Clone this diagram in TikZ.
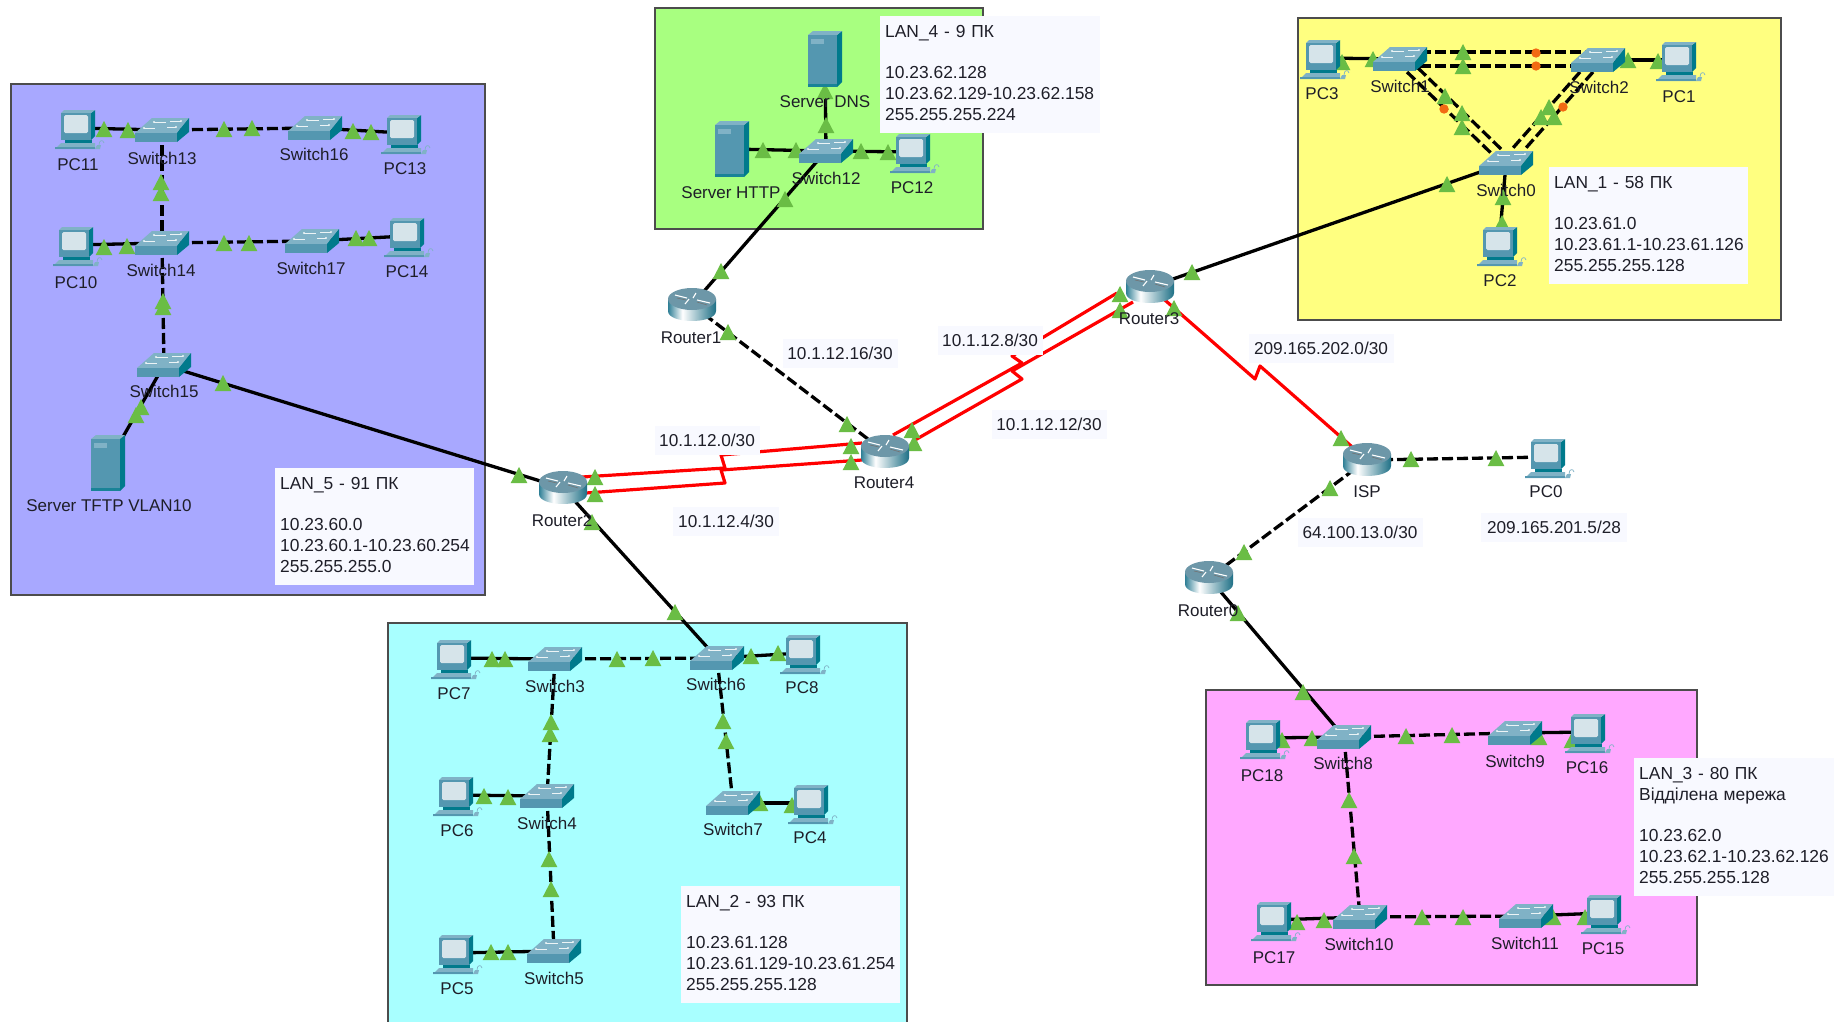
\documentclass[tikz,border=0pt]{standalone}
\usepackage{fontspec}
\setmainfont{Liberation Sans}
\usetikzlibrary{calc}
\definecolor{lanblue}{HTML}{A8A8FF}
\definecolor{langreen}{HTML}{A8FF80}
\definecolor{lanyellow}{HTML}{FFFF80}
\definecolor{lancyan}{HTML}{A8FFFF}
\definecolor{lanpink}{HTML}{FFA8FF}
\definecolor{boxbg}{HTML}{F8F9FF}
\definecolor{icfront}{HTML}{5497B0}
\definecolor{ictop}{HTML}{80B2C6}
\definecolor{icside}{HTML}{007A8C}
\definecolor{icscreen}{HTML}{D6E4EA}
\definecolor{linkgreen}{HTML}{6ABD45}
\definecolor{linkorange}{HTML}{F26A13}
\definecolor{labelink}{HTML}{1E1E28}
\definecolor{rbd}{HTML}{2F7F96}
\definecolor{rbe}{HTML}{1F7086}
\pgfdeclarehorizontalshading{routerbody}{100bp}{color(0bp)=(rbd); color(25bp)=(rbd); color(40bp)=(white); color(75bp)=(rbe); color(100bp)=(rbe)}
\newcommand{\firstline}{\rule{0pt}{16pt}}
\newcommand{\lastline}{\rule[-7.5pt]{0pt}{7.5pt}}
\tikzset{
 region/.style={draw=black!70,line width=1.3pt},
 dev/.style={inner sep=0pt,outer sep=0pt,minimum size=0pt},
 link/.style={black,line width=3.3pt},
 dlink/.style={black,line width=3.3pt,dash pattern=on 11pt off 4pt},
 serial/.style={red,line width=3.2pt,line join=round},
 lbl/.style={inner sep=0pt,yshift=-0.8pt,text=labelink,font=\fontsize{17}{20}\selectfont},
 netbox/.style={fill=boxbg,text=labelink,inner sep=0pt,font=\fontsize{17.2}{20}\selectfont},
 infobox/.style={fill=boxbg,text=labelink,anchor=north west,align=left,inner xsep=5pt,inner ysep=5pt,font=\fontsize{17.4}{20.8}\selectfont},
 tri/.pic={\fill[linkgreen] (-8.3,8) -- (8.3,8) -- (0,-8) -- cycle;},
 dot/.pic={\fill[linkorange] (0,0) circle[radius=4.7pt];},
 switchicon/.pic={
  \fill[ictop] (-27,3) -- (-10,-12) -- (27,-12) -- (15,3) -- cycle;
  \fill[icfront] (-27,3) rectangle (15,12);
  \fill[icside] (15,3) -- (27,-12) -- (27,2) -- (15,12) -- cycle;
  \draw[white!85!ictop,line width=.7pt] (-8,-8) -- (4,-8) (8,-9) -- (19,-9) (-18,-2) -- (-7,-2) (5,-3) -- (14,-3);
  \fill[white!85!ictop] (-18,-2) circle[radius=1.2pt] (14,-3) circle[radius=1.2pt] (-8,-8) circle[radius=1.2pt] (19,-9) circle[radius=1.2pt];
 },
 routericon/.pic={
  \shade[shading=routerbody] (-24,-6) -- (-24,6) .. controls (-24,19.3) and (24,19.3) .. (24,6) -- (24,-6) -- cycle;
  \fill[ictop!85!black] (0,-6) ellipse[x radius=24pt,y radius=11pt];
  \draw[white,line width=1.1pt] (-17,-10) -- (-5,-7) (4,-12) -- (1,-7) (-7,-1) -- (-3,-6) (5,-5) -- (18,-2);
  \draw[black!55,line width=.6pt] (-15,-7) -- (-6,-5) (5,-3) -- (15,0);
 },
 pcicon/.pic={
  \fill[icside] (14,-15) -- (18,-18) -- (18,8) -- (14,12) -- cycle;
  \fill[ictop] (-16,-15) -- (-13,-18) -- (18,-18) -- (14,-15) -- cycle;
  \fill[icfront] (-16,-15) rectangle (14,12);
  \fill[icscreen,rounded corners=1.5pt] (-13,-13) rectangle (11,5);
  \fill[icside] (-12,12) rectangle (15,15);
  \fill[ictop] (-22,21) -- (-16,15) -- (18,15) -- (18,21) -- cycle;
  \fill[icfront] (-22,19) rectangle (18,21);
  \fill[ictop] (18,21) -- (20,17) -- (24,17) -- (23,21) -- cycle;
  \draw[ictop,line width=.7pt] (22,17) .. controls (22,12) and (26,11) .. (27,15);
 },
 servericon/.pic={
  \fill[icside] (12,-24) -- (17,-28) -- (17,23) -- (12,28) -- cycle;
  \fill[ictop] (-17,-24) -- (-12,-28) -- (17,-28) -- (12,-24) -- cycle;
  \fill[icfront] (-17,-24) rectangle (12,28);
  \fill[ictop] (-14,-20) rectangle (-1,-15);
  \fill[icside!70!icfront] (-17,25) rectangle (12,28);
 }
}
\begin{document}
\begin{tikzpicture}[x=1pt,y=-1pt]
\useasboundingbox (0,0) rectangle (1843,1021);
\clip (0,0) rectangle (1843,1021);
\fill[white] (0,0) rectangle (1843,1021);
% regions
\draw[region,fill=lanblue] (11,84) rectangle (485,595);
\draw[region,fill=langreen] (655,8) rectangle (983,229);
\draw[region,fill=lanyellow] (1298,18) rectangle (1781,320);
\draw[region,fill=lancyan] (388,623) rectangle (907,1030);
\draw[region,fill=lanpink] (1206,690) rectangle (1697,985);
% devices
\foreach \n/\x/\y in {PCe/77/128,PCf/75/245,PCg/403/133,PCh/406/236,
  SWm/162/130,SWn/315/128,SWo/162/243,SWp/312/241,SWq/164/365,
  SRtftp/108/463,RTb/563/488,RTa/692/305,RTd/885/452,RTc/1150/287,
  ISP/1367/460,PCz/1547/457,RTz/1209/578,
  SRdns/825/59,SRhttp/732/149,SWl/826/151,PCl/912/152,
  PCc/1322/58,SWb/1400/59,SWc/1598/60,PCa/1678/60,SWa/1506/163,PCb/1499/245,
  PCi/453/658,SWd/555/659,SWg/717/658,PCj/802/653,PCk/455/795,SWe/547/796,
  SWh/733/803,PCd/810/803,PCy/455/953,SWf/554/951,
  PCr/1262/738,SWs/1344/737,SWt/1515/733,PCs/1587/732,
  PCt/1273/920,SWu/1360/917,SWv/1526/916,PCu/1603/913}
  {\node[dev] (\n) at (\x,\y) {};}
% bends of the serial links
\coordinate (zA1) at (721,455); \coordinate (zA2) at (725,468);
\coordinate (zB1) at (721,470); \coordinate (zB2) at (725,483);
\coordinate (zC1) at (1012,356); \coordinate (zC2) at (1022,363);
\coordinate (zD1) at (1012,371); \coordinate (zD2) at (1022,379);
\coordinate (zE1) at (1255,379); \coordinate (zE2) at (1260,366);
% connectors
\draw[link] (PCe) -- (SWm); \draw[dlink] (SWm) -- (SWn); \draw[link] (SWn) -- (PCg);
\draw[link] (PCf) -- (SWo); \draw[dlink] (SWo) -- (SWp); \draw[link] (SWp) -- (PCh);
\draw[dlink] (SWm) -- (SWo); \draw[dlink] (SWo) -- (SWq);
\draw[link] (SWq) -- (SRtftp); \draw[link] (SWq) -- (RTb);
\draw[link] (RTb) -- (SWg);
\draw[link] (RTa) -- (SWl); \draw[dlink] (RTa) -- (RTd);
\draw[link] (SRdns) -- (SWl); \draw[link] (SRhttp) -- (SWl); \draw[link] (SWl) -- (PCl);
\draw[link] (RTc) -- (SWa);
\draw[link] (PCc) -- (SWb); \draw[link] (SWc) -- (PCa); \draw[link] (SWa) -- (PCb);
\draw[dlink] ($(SWb)+(20,-7)$) -- ($(SWc)+(-10,-8)$);
\draw[dlink] ($(SWb)+(20,7)$) -- ($(SWc)+(-20,6)$);
\draw[dlink] ($(SWb)+(7,13)$) -- ($(SWa)+(-14,-9)$);
\draw[dlink] ($(SWb)+(18,9)$) -- ($(SWa)+(-4,-13)$);
\draw[dlink] ($(SWc)+(-18,12)$) -- ($(SWa)+(6,-14)$);
\draw[dlink] ($(SWc)+(-5,12)$) -- ($(SWa)+(19,-14)$);
\draw[serial] ($(RTb)+(19,-11)$) -- (zA2) -- (zA1) -- ($(RTd)+(-23,-9)$);
\draw[serial] ($(RTb)+(23,5)$) -- (zB2) -- (zB1) -- ($(RTd)+(-23,8)$);
\draw[serial] ($(RTd)+(8,-17)$) -- (zC2) -- (zC1) -- ($(RTc)+(-33,6)$);
\draw[serial] ($(RTd)+(30,-12)$) -- (zD2) -- (zD1) -- ($(RTc)+(-17,15)$);
\draw[serial] (RTc) -- (zE1) -- (zE2) -- (ISP);
\draw[dlink] (ISP) -- (PCz); \draw[dlink] (ISP) -- (RTz); \draw[link] (RTz) -- (SWs);
\draw[link] (PCi) -- (SWd); \draw[dlink] (SWd) -- (SWg); \draw[link] (SWg) -- (PCj);
\draw[dlink] (SWd) -- (SWe); \draw[dlink] (SWe) -- (SWf); \draw[link] (PCk) -- (SWe);
\draw[link] (PCy) -- (SWf); \draw[dlink] (SWg) -- (SWh); \draw[link] (SWh) -- (PCd);
\draw[link] (PCr) -- (SWs); \draw[dlink] (SWs) -- (SWt); \draw[link] (SWt) -- (PCs);
\draw[dlink] (SWs) -- (SWu); \draw[link] (PCt) -- (SWu);
\draw[dlink] (SWu) -- (SWv); \draw[link] (SWv) -- (PCu);
% link lights
\foreach \p in {(104,129),(128,130),(224,129),(252,128),(353,131),(371,132),
  (104,247),(127,246),(224,243),(249,243),(356,238),(369,238),
  (161,182),(161,193),(163,301),(163,307),(141,407),(136,415),(223,383),(519,475),
  (595,477),(595,494),(592,522),(675,612),
  (825,91),(826,125),(763,150),(796,150),(861,151),(888,152),(785,199),(721,271),
  (728,332),(847,424),(851,446),(851,462),(912,430),(914,443),
  (1120,294),(1120,310),(1174,308),(1192,272),(1447,184),
  (1373,59),(1342,62),(1463,52),(1463,66),(1628,60),(1658,61),
  (1445,96),(1462,113),(1462,127),(1549,107),(1541,117),(1554,117),(1503,197),(1502,223),
  (1341,438),(1330,488),(1411,459),(1496,458),(1244,552),(1238,613),
  (492,659),(505,659),(617,659),(653,658),(751,656),(778,653),
  (551,722),(550,734),(723,721),(726,741),(484,796),(508,797),
  (549,859),(551,889),(760,803),(792,805),(491,952),(508,952),
  (1303,692),(1282,740),(1312,738),(1406,736),(1452,735),(1539,737),(1572,740),
  (1349,800),(1354,856),(1297,922),(1324,920),(1422,917),(1463,917),(1553,917),(1585,917)}
  {\pic at \p {tri};}
\foreach \p in {(1536,53),(1536,66),(1444,109),(1563,107)} {\pic at \p {dot};}
% icons
\foreach \n in {PCe,PCf,PCg,PCh,PCl,PCc,PCa,PCb,PCz,PCi,PCj,PCk,PCd,PCy,PCr,PCs,PCt,PCu}
  {\pic at (\n) {pcicon};}
\foreach \n in {SWa,SWb,SWc,SWd,SWe,SWf,SWg,SWh,SWl,SWm,SWn,SWo,SWp,SWq,SWs,SWt,SWu,SWv}
  {\pic at (\n) {switchicon};}
\foreach \n in {RTa,RTb,RTc,RTd,RTz,ISP} {\pic at (\n) {routericon};}
\foreach \n in {SRdns,SRhttp,SRtftp} {\pic at (\n) {servericon};}
% device labels
\foreach \n/\x/\y/\t in {lPCe/78/164/PC11,lSWm/162/158/Switch13,lSWn/314/154/Switch16,lPCg/405/168/PC13,
  lPCf/76/282/PC10,lSWo/161/270/Switch14,lSWp/311/268/Switch17,lPCh/407/271/PC14,
  lSWq/164/391/Switch15,lSRt/109/505/Server TFTP VLAN10,lRTb/562/520/Router2,
  lSRd/825/101/Server DNS,lSRh/731/192/Server HTTP,lSWl/826/178/Switch12,lPCl/912/187/PC12,
  lRTa/691/337/Router1,lRTd/884/482/Router4,lRTc/1149/318/Router3,
  lPCc/1322/93/PC3,lSWb/1400/86/Switch1,lSWc/1599/87/Switch2,lPCa/1679/96/PC1,lSWa/1506/190/Switch0,lPCb/1500/280/PC2,
  lISP/1367/491/ISP,lPCz/1546/491/PC0,lRTz/1208/610/Router0,
  lPCi/454/693/PC7,lSWd/555/686/Switch3,lSWg/716/684/Switch6,lPCj/802/687/PC8,
  lPCk/457/830/PC6,lSWe/547/823/Switch4,lSWh/733/829/Switch7,lPCd/810/837/PC4,
  lPCy/457/988/PC5,lSWf/554/978/Switch5,
  lPCr/1262/775/PC18,lSWs/1343/763/Switch8,lSWt/1515/761/Switch9,lPCs/1587/767/PC16,
  lPCt/1274/957/PC17,lSWu/1359/944/Switch10,lSWv/1525/943/Switch11,lPCu/1603/948/PC15}
  {\node[lbl] (\n) at (\x,\y) {\t};}
% network labels
\foreach \n/\x/\y/\w/\t in {nA/840/353/115/{10.1.12.16/30},nB/990/340/105/{10.1.12.8/30},nC/1049/424/115/{10.1.12.12/30},
  nD/707/440/105/{10.1.12.0/30},nE/726/521/106/{10.1.12.4/30},nF/1321/348/145/{209.165.202.0/30},
  nG/1360/532/125/{64.100.13.0/30},nH/1554/527/146/{209.165.201.5/28}}
  {\node[netbox,minimum width=\w pt,minimum height=29pt] (\n) at (\x,\y) {\t};}
% LAN info boxes
\node[infobox,text width=189pt] (iV) at (275,468) {\firstline LAN\_5 - 91 ПК\\[20.8pt]10.23.60.0\\\mbox{10.23.60.1-10.23.60.254}\\255.255.255.0\lastline};
\node[infobox,text width=210pt] (iIV) at (880,16) {\firstline LAN\_4 - 9 ПК\\[20.8pt]10.23.62.128\\\mbox{10.23.62.129-10.23.62.158}\\255.255.255.224\lastline};
\node[infobox,text width=189pt] (iI) at (1549,167) {\firstline LAN\_1 - 58 ПК\\[20.8pt]10.23.61.0\\\mbox{10.23.61.1-10.23.61.126}\\255.255.255.128\lastline};
\node[infobox,text width=209pt] (iII) at (681,886) {\firstline LAN\_2 - 93 ПК\\[20.8pt]10.23.61.128\\\mbox{10.23.61.129-10.23.61.254}\\255.255.255.128\lastline};
\node[infobox,text width=190pt] (iIII) at (1634,758) {\firstline LAN\_3 - 80 ПК\\Відділена мережа\\[20.8pt]10.23.62.0\\\mbox{10.23.62.1-10.23.62.126}\\255.255.255.128\lastline};
\end{tikzpicture}
\end{document}
